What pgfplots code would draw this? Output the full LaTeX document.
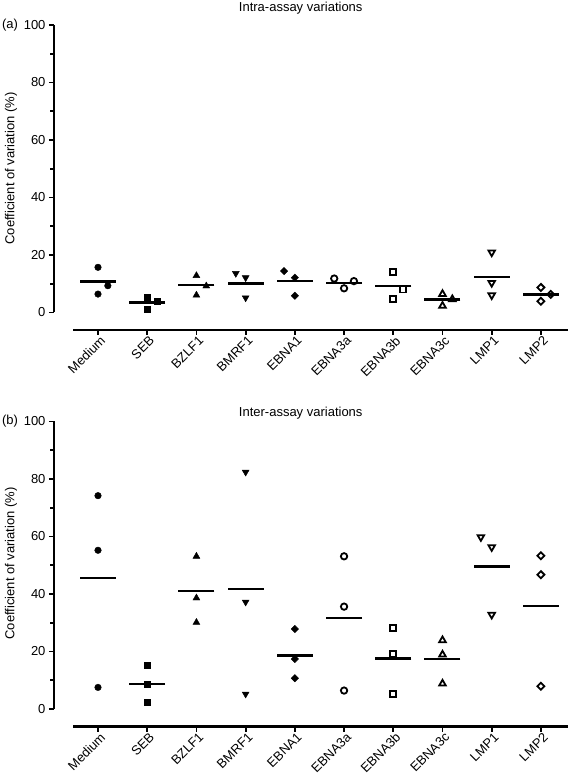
\documentclass[border=0pt]{standalone}
\usepackage{fontspec}
\setmainfont{Liberation Sans}
\usepackage{pgfplots}
\pgfplotsset{compat=1.18}
\newcommand{\fs}{\fontsize{13}{15}\selectfont}
\pgfplotsset{
  myax/.style={
    scale only axis, width=514pt, height=305pt,
    xmin=-0.894, xmax=9.55, ymin=-6.1, ymax=100,
    axis lines=left, axis line style={draw=none},
    clip=false,
    tick align=outside,
    major tick length=5pt, minor tick length=3.5pt,
    every tick/.style={black, line width=1.8pt},
    xtick={0,...,9}, ytick={0,20,...,100}, minor ytick={10,30,...,90},
    xticklabels={Medium,SEB,BZLF1,BMRF1,EBNA1,EBNA3a,EBNA3b,EBNA3c,LMP1,LMP2},
    xticklabel style={rotate=45, anchor=north east, inner sep=1pt, xshift=2pt, font=\fs},
    yticklabel style={font=\fs},
    /pgf/number format/assume math mode=true,
    only marks,
  },
  fc/.style={mark=*, mark size=3.3pt, black, mark options={fill=black}},
  fs/.style={mark=square*, mark size=3.1pt, black, mark options={fill=black}},
  ft/.style={mark=triangle*, mark size=4.0pt, black, mark options={fill=black}},
  fd/.style={mark=triangle*, mark size=4.0pt, black, mark options={fill=black, rotate=180}},
  fdi/.style={mark=square*, mark size=2.6pt, black, mark options={fill=black, rotate=45}},
  oc/.style={mark=o, mark size=3.2pt, black, mark options={line width=1.8pt}},
  os/.style={mark=square, mark size=3.0pt, black, mark options={line width=1.8pt}},
  ot/.style={mark=triangle, mark size=3.8pt, black, mark options={line width=1.8pt}},
  od/.style={mark=triangle, mark size=3.8pt, black, mark options={line width=1.8pt, rotate=180}},
  odi/.style={mark=square, mark size=2.5pt, black, mark options={line width=1.8pt, rotate=45}},
  meanl/.style={mark=-, mark size=18pt, black, mark options={line width=2.6pt}},
}
\begin{document}
\begin{tikzpicture}
\useasboundingbox (0,0) rectangle (568pt,780pt);
% ---------- (a) ----------
\begin{axis}[myax, at={(54pt,450pt)}, anchor=south west]
\draw[line width=2.6pt] (axis cs:-0.894,0) -- (axis cs:-0.894,100);
\draw[line width=2.6pt] (axis cs:-0.5,-6.1) -- (axis cs:9.55,-6.1);
\node[font=\fs] at (axis description cs:-0.0856,1.0) {(a)};
\node[font=\fs] at (axis description cs:0.48,1.055) {Intra-assay variations};
\node[font=\fs, rotate=90] at (axis description cs:-0.0837,0.53) {Coefficient of variation (\%)};
\addplot[fc] coordinates {(0,15.7) (0.2,9.3) (0,6.4)};
\addplot[fs] coordinates {(1,5.2) (1.2,3.9) (1,1.0)};
\addplot[ft] coordinates {(2,12.8) (2.2,9.2) (2,6.0)};
\addplot[fd] coordinates {(2.8,13.6) (3,12.1) (3,5.1)};
\addplot[fdi] coordinates {(3.78,14.4) (4,12.1) (4,5.8)};
\addplot[oc] coordinates {(4.8,11.8) (5,8.4) (5.2,10.9)};
\addplot[os] coordinates {(6,14.2) (6.2,8.0) (6,4.6)};
\addplot[ot] coordinates {(7,6.4) (7.2,4.6) (7,2.3)};
\addplot[od] coordinates {(8,20.9) (8,10.3) (8,6.0)};
\addplot[odi] coordinates {(9,8.7) (9.2,6.3) (9,3.9)};
\addplot[meanl] coordinates {(0,10.7) (1,3.5) (2,9.5) (3,10.1) (4,10.9) (5,10.3) (6,9.2) (7,4.5) (8,12.4) (9,6.3)};
\end{axis}
% ---------- (b) ----------
\begin{axis}[myax, at={(54pt,53.5pt)}, anchor=south west]
\draw[line width=2.6pt] (axis cs:-0.894,0) -- (axis cs:-0.894,100);
\draw[line width=2.6pt] (axis cs:-0.5,-6.1) -- (axis cs:9.55,-6.1);
\node[font=\fs] at (axis description cs:-0.0856,1.0) {(b)};
\node[font=\fs] at (axis description cs:0.48,1.029) {Inter-assay variations};
\node[font=\fs, rotate=90] at (axis description cs:-0.0837,0.535) {Coefficient of variation (\%)};
\addplot[fc] coordinates {(0,74.2) (0,55.2) (0,7.5)};
\addplot[fs] coordinates {(1,15.1) (1,8.5) (1,2.3)};
\addplot[ft] coordinates {(2,53.1) (2,38.6) (2,30.1)};
\addplot[fd] coordinates {(3,82.4) (3,37.2) (3,5.2)};
\addplot[fdi] coordinates {(4,27.8) (4,17.4) (4,10.7)};
\addplot[oc] coordinates {(5,53.1) (5,35.6) (5,6.4)};
\addplot[os] coordinates {(6,28.2) (6,19.0) (6,5.2)};
\addplot[ot] coordinates {(7,23.9) (7,18.9) (7,8.8)};
\addplot[od] coordinates {(7.78,59.8) (8,56.3) (8,32.8)};
\addplot[odi] coordinates {(9,53.3) (9,46.7) (9,7.9)};
\addplot[meanl] coordinates {(0,45.6) (1,8.7) (2,41.0) (3,41.7) (4,18.7) (5,31.6) (6,17.5) (7,17.4) (8,49.5) (9,35.8)};
\end{axis}
\end{tikzpicture}
\end{document}
